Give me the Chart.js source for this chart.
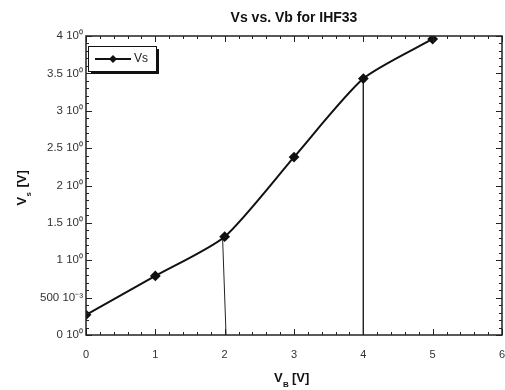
<!DOCTYPE html>
<html>
<head>
<meta charset="utf-8">
<script src="https://cdn.jsdelivr.net/npm/chart.js@4/dist/chart.umd.min.js"></script>
<style>
  html, body { margin: 0; padding: 0; background: #fff; overflow: hidden; }
  #wrap { width: 508px; height: 390px; }
</style>
</head>
<body>
<div id="wrap"><canvas id="vsChart"></canvas></div>
<script>
// measured points
const vb = [0, 1, 2, 3, 4, 5];
const vs = [0.27, 0.79, 1.315, 2.38, 3.43, 3.96];
// thin guide lines dropped to the axis
const guide2X = [1.97, 2.02];
const guide2Y = [1.30, 0];
const guide4X = [4, 4];
const guide4Y = [3.40, 0];
const yTickLabels = ['0 10⁰', '500 10⁻³', '1 10⁰', '1.5 10⁰', '2 10⁰', '2.5 10⁰', '3 10⁰', '3.5 10⁰', '4 10⁰'];
const chartTitle = 'Vs vs. Vb for IHF33';

Chart.defaults.font.family = '"Liberation Sans", Arial, sans-serif';
Chart.defaults.color = '#333';

const toXY = (xs, ys) => xs.map((x, i) => ({ x: x, y: ys[i] }));

// inward ticks on all four sides, frame, legend, titles
const frameTicks = {
  id: 'frameTicks',
  afterDraw(chart) {
    const ctx = chart.ctx;
    const a = chart.chartArea;
    const xs = chart.scales.x, ys = chart.scales.y;
    ctx.save();
    ctx.strokeStyle = '#222';
    ctx.lineWidth = 1;
    ctx.beginPath();
    for (let i = 0; i <= 30; i++) {
      const px = Math.round(xs.getPixelForValue(i * 0.2)) + 0.5;
      const len = i % 5 === 0 ? 6 : 3;
      ctx.moveTo(px, a.bottom); ctx.lineTo(px, a.bottom - len);
      ctx.moveTo(px, a.top); ctx.lineTo(px, a.top + len);
    }
    for (let i = 0; i <= 40; i++) {
      const py = Math.round(ys.getPixelForValue(i * 0.1)) + 0.5;
      const len = i % 5 === 0 ? 6 : 3;
      ctx.moveTo(a.left, py); ctx.lineTo(a.left + len, py);
      ctx.moveTo(a.right, py); ctx.lineTo(a.right - len, py);
    }
    ctx.stroke();
    ctx.lineWidth = 1.5;
    ctx.strokeRect(a.left, a.top, a.right - a.left, a.bottom - a.top);

    // legend box with shadow
    const lx = a.left + 2, ly = a.top + 10, lw = 68, lh = 25;
    ctx.fillStyle = '#111';
    ctx.fillRect(lx + 3, ly + 3, lw, lh);
    ctx.fillStyle = '#fff';
    ctx.fillRect(lx, ly, lw, lh);
    ctx.lineWidth = 1;
    ctx.strokeStyle = '#111';
    ctx.strokeRect(lx + 0.5, ly + 0.5, lw, lh);
    ctx.lineWidth = 2;
    ctx.beginPath();
    ctx.moveTo(lx + 7, ly + 13); ctx.lineTo(lx + 43, ly + 13);
    ctx.stroke();
    ctx.fillStyle = '#111';
    ctx.beginPath();
    ctx.moveTo(lx + 25, ly + 9); ctx.lineTo(lx + 29, ly + 13);
    ctx.lineTo(lx + 25, ly + 17); ctx.lineTo(lx + 21, ly + 13);
    ctx.closePath(); ctx.fill();
    ctx.font = '12px "Liberation Sans", Arial, sans-serif';
    ctx.fillStyle = '#222';
    ctx.textBaseline = 'middle';
    ctx.fillText('Vs', lx + 46, ly + 13);

    const cx = (a.left + a.right) / 2;
    // chart title, centred over the plot area
    ctx.font = 'bold 14px "Liberation Sans", Arial, sans-serif';
    ctx.fillStyle = '#111';
    ctx.textAlign = 'center';
    ctx.textBaseline = 'alphabetic';
    ctx.fillText(chartTitle, cx, 22);
    ctx.textAlign = 'left';

    // axis titles with subscripts
    ctx.font = 'bold 13px "Liberation Sans", Arial, sans-serif';
    ctx.fillText('V', cx - 20, 382);
    ctx.font = 'bold 8px "Liberation Sans", Arial, sans-serif';
    ctx.fillText('B', cx - 11, 387);
    ctx.font = 'bold 13px "Liberation Sans", Arial, sans-serif';
    ctx.fillText('[V]', cx - 2, 382);

    ctx.translate(26, (a.top + a.bottom) / 2);
    ctx.rotate(-Math.PI / 2);
    ctx.fillText('V', -20, 0);
    ctx.font = 'bold 8px "Liberation Sans", Arial, sans-serif';
    ctx.fillText('s', -11, 5);
    ctx.font = 'bold 13px "Liberation Sans", Arial, sans-serif';
    ctx.fillText('[V]', -2, 0);
    ctx.restore();
  }
};

new Chart(document.getElementById('vsChart'), {
  type: 'scatter',
  data: {
    datasets: [
      {
        label: 'Vs',
        data: toXY(vb, vs),
        showLine: true,
        borderColor: '#111',
        backgroundColor: '#111',
        borderWidth: 2,
        tension: 0.22,
        pointStyle: 'rectRot',
        pointRadius: 4,
        pointHoverRadius: 4
      },
      {
        label: 'guide2',
        data: toXY(guide2X, guide2Y),
        showLine: true,
        borderColor: '#222',
        borderWidth: 1,
        pointRadius: 0
      },
      {
        label: 'guide4',
        data: toXY(guide4X, guide4Y),
        showLine: true,
        borderColor: '#222',
        borderWidth: 1,
        pointRadius: 0
      }
    ]
  },
  options: {
    responsive: true,
    maintainAspectRatio: false,
    animation: false,
    layout: { padding: { left: 0, right: 0, top: 36, bottom: 0 } },
    plugins: {
      legend: { display: false },
      tooltip: { enabled: false },
      title: { display: false }
    },
    scales: {
      x: {
        type: 'linear',
        min: 0,
        max: 6,
        grid: { display: false, drawTicks: false },
        border: { display: false },
        afterFit: (s) => { s.height = 55; s.paddingLeft = 0; s.paddingRight = 0; },
        ticks: { stepSize: 1, padding: 13, font: { size: 11 }, color: '#333' }
      },
      y: {
        type: 'linear',
        min: 0,
        max: 4,
        grid: { display: false, drawTicks: false },
        border: { display: false },
        afterFit: (s) => { s.width = 86; s.paddingTop = 0; s.paddingBottom = 0; },
        ticks: {
          stepSize: 0.5,
          padding: 3,
          font: { size: 11.5 },
          color: '#333',
          callback: (v) => yTickLabels[Math.round(v * 2)]
        }
      }
    }
  },
  plugins: [frameTicks]
});
</script>
</body>
</html>
